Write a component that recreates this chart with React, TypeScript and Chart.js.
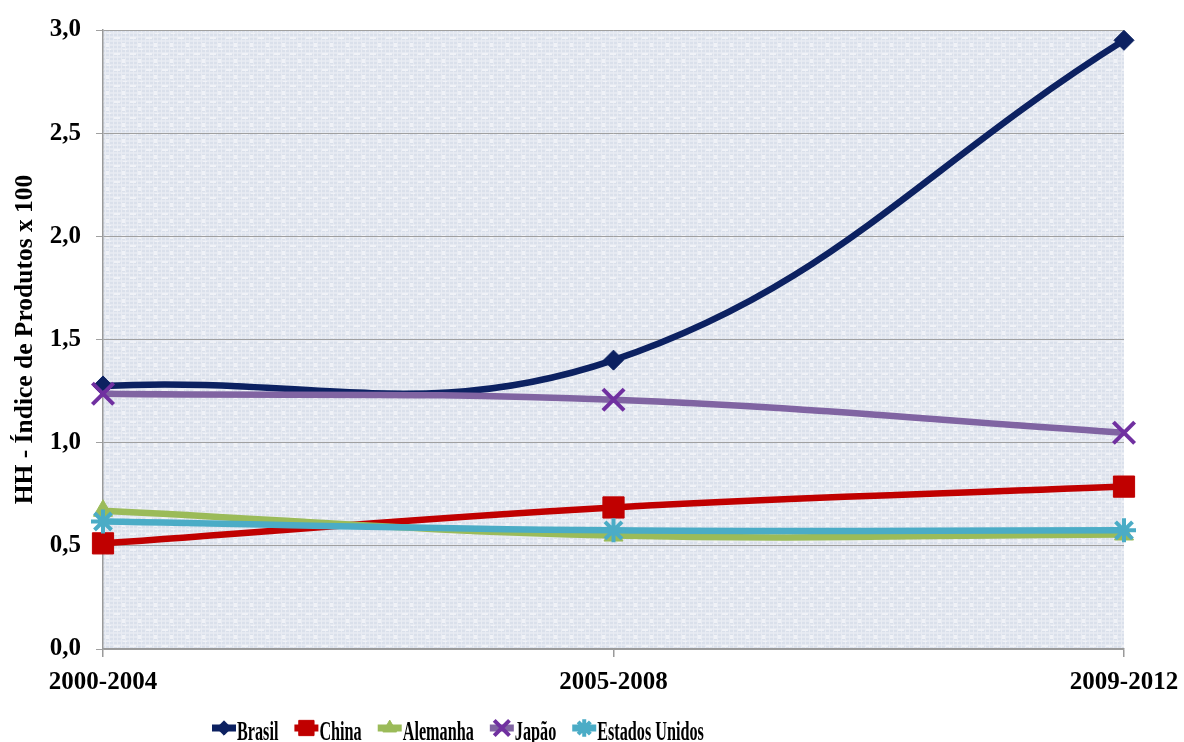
import React, { useEffect, useRef } from "react";
import { Chart, registerables } from "chart.js";
import { drawPoint } from "chart.js/helpers";

Chart.register(...registerables);

// Periods on the x axis
const periods = ["2000-2004", "2005-2008", "2009-2012"];

// HH product concentration index (x 100) per country
const brasil = [1.275, 1.4, 2.95];
const china = [0.512, 0.686, 0.787];
const alemanha = [0.67, 0.55, 0.555];
const japao = [1.237, 1.208, 1.048];
const estadosUnidos = [0.618, 0.575, 0.575];

// Y axis range
const yMin = 0;
const yMax = 3;
const yStep = 0.5;

const SERIF = "'Liberation Serif', 'Times New Roman', serif";

// Light woven texture used to fill the plot area
function makeTexture(ctx: CanvasRenderingContext2D): CanvasPattern | string {
  const c = document.createElement("canvas");
  c.width = 16;
  c.height = 16;
  const t = c.getContext("2d");
  if (!t) return "#dfe4ee";
  t.fillStyle = "#dae0eb";
  t.fillRect(0, 0, 16, 16);
  t.fillStyle = "#e5e9f1";
  for (let i = 0; i < 16; i += 4) {
    t.fillRect(0, i, 16, 2);
  }
  t.fillStyle = "#e9ecf3";
  for (let i = 1; i < 16; i += 4) {
    t.fillRect(i, 0, 1, 16);
  }
  t.fillStyle = "#f0f2f7";
  t.fillRect(2, 5, 6, 2);
  t.fillRect(10, 11, 3, 4);
  t.fillRect(11, 1, 4, 1);
  const p = ctx.createPattern(c, "repeat");
  return p || "#dfe4ee";
}

const plotBackground = {
  id: "plotBackground",
  beforeDraw(chart: any) {
    const { ctx, chartArea } = chart;
    if (!chartArea) return;
    ctx.save();
    ctx.fillStyle = makeTexture(ctx);
    ctx.fillRect(
      chartArea.left,
      chartArea.top,
      chartArea.right - chartArea.left,
      chartArea.bottom - chartArea.top
    );
    ctx.restore();
  },
};

// Bottom legend with condensed serif labels
const condensedLegend = {
  id: "condensedLegend",
  afterDraw(chart: any) {
    const { ctx } = chart;
    const y = 728;
    const baseline = 740;
    const lineLen = 24;
    const gap = 16;
    const squeeze = 0.6;
    let x = 212;
    ctx.save();
    ctx.font = `bold 27px ${SERIF}`;
    ctx.textBaseline = "alphabetic";
    ctx.textAlign = "left";
    chart.data.datasets.forEach((ds: any) => {
      ctx.strokeStyle = ds.borderColor;
      ctx.lineWidth = 7;
      ctx.lineCap = "butt";
      ctx.beginPath();
      ctx.moveTo(x, y);
      ctx.lineTo(x + lineLen, y);
      ctx.stroke();
      ctx.fillStyle = ds.pointBackgroundColor;
      ctx.strokeStyle = ds.pointBorderColor;
      ctx.lineWidth = ds.pointBorderWidth;
      drawPoint(
        ctx,
        {
          pointStyle: ds.pointStyle,
          radius: ds.pointRadius * 0.72,
          rotation: 0,
          borderWidth: ds.pointBorderWidth,
        } as any,
        x + lineLen / 2,
        y
      );
      const tx = x + lineLen + 1;
      ctx.save();
      ctx.translate(tx, baseline);
      ctx.scale(squeeze, 1);
      ctx.fillStyle = "#000000";
      ctx.fillText(ds.label, 0, 0);
      ctx.restore();
      const w = ctx.measureText(ds.label).width * squeeze;
      x = tx + w + gap;
    });
    ctx.restore();
  },
};

export default function App() {
  const canvasRef = useRef<HTMLCanvasElement | null>(null);

  useEffect(() => {
    document.body.style.margin = "0";
    const canvas = canvasRef.current;
    if (!canvas) return;

    const line = (
      label: string,
      data: number[],
      color: string,
      markerColor: string,
      pointStyle: string,
      radius: number,
      borderW: number,
      order: number
    ) => ({
      label,
      data,
      borderColor: color,
      backgroundColor: color,
      borderWidth: 6.5,
      pointStyle,
      pointRadius: radius,
      pointHoverRadius: radius,
      pointBackgroundColor: markerColor,
      pointBorderColor: markerColor,
      pointBorderWidth: borderW,
      tension: 0.4,
      order,
    });

    const chart = new Chart(canvas, {
      type: "line",
      data: {
        labels: periods,
        datasets: [
          line("Brasil", brasil, "#0c2161", "#0c2161", "rectRot", 10, 1, 5),
          line("China", china, "#c00000", "#c00000", "rect", 15, 1, 4),
          line("Alemanha", alemanha, "#9bbb59", "#9bbb59", "triangle", 11, 1, 3),
          line("Japão", japao, "#8064a2", "#7030a0", "crossRot", 15, 4, 2),
          line("Estados Unidos", estadosUnidos, "#4bacc6", "#4bacc6", "star", 12, 4, 1),
        ] as any,
      },
      options: {
        responsive: false,
        animation: false,
        layout: { padding: { left: 0, top: 28, right: 60, bottom: 0 } },
        plugins: {
          legend: { display: false },
          tooltip: { enabled: false },
        },
        scales: {
          x: {
            type: "category",
            offset: false,
            afterFit: (scale: any) => {
              scale.height = 93;
              scale.paddingRight = 0;
              scale.paddingLeft = 0;
            },
            grid: {
              display: true,
              drawOnChartArea: false,
              drawTicks: true,
              tickLength: 8,
              color: "#9a9a9a",
              lineWidth: 1.5,
            },
            border: { display: true, color: "#9a9a9a", width: 1.5 },
            ticks: {
              color: "#000000",
              padding: 11,
              maxRotation: 0,
              autoSkip: false,
              font: { family: SERIF, size: 25, weight: "bold" },
            },
          },
          y: {
            min: yMin,
            max: yMax,
            afterFit: (scale: any) => {
              scale.width = 103;
            },
            grid: {
              color: "#a0a0a0",
              lineWidth: 1,
              drawTicks: true,
              tickLength: 7,
            },
            border: { display: true, color: "#9a9a9a", width: 1.5 },
            ticks: {
              stepSize: yStep,
              color: "#000000",
              padding: 15,
              font: { family: SERIF, size: 25, weight: "bold" },
              callback: (v: any) => Number(v).toFixed(1).replace(".", ","),
            },
            title: {
              display: true,
              text: "HH - Índice de Produtos x 100",
              color: "#000000",
              padding: { top: 10, bottom: 0 },
              font: { family: SERIF, size: 25.5, weight: "bold" },
            },
          },
        },
      },
      plugins: [plotBackground, condensedLegend],
    });

    return () => chart.destroy();
  }, []);

  return (
    <div style={{ position: "absolute", left: 0, top: 0, width: 1184, height: 742 }}>
      <canvas ref={canvasRef} width={1184} height={742} />
    </div>
  );
}
